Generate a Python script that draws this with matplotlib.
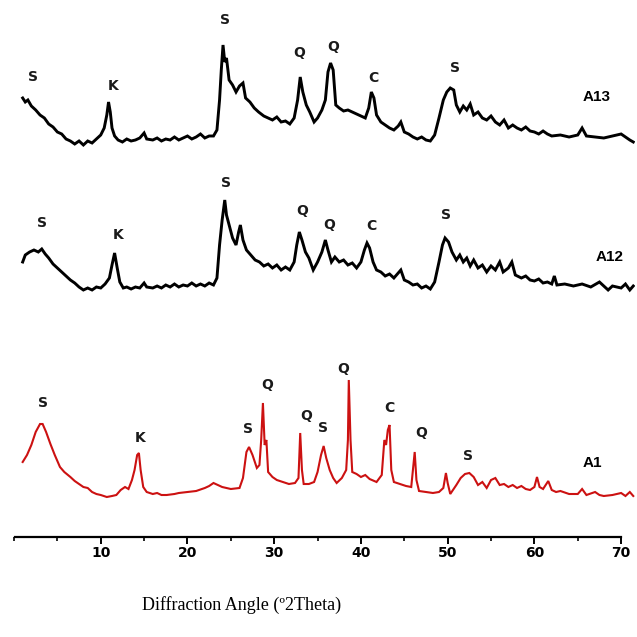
import matplotlib.pyplot as plt
from matplotlib.ticker import MultipleLocator

# Diffraction angle (2 theta) and intensity, one pair of lists per sample
a13_angle = [1.0, 1.3, 1.6, 2.0, 2.5, 3.0, 3.5, 4.0, 4.5, 5.0, 5.5, 6.0, 6.5, 7.0, 7.5, 8.0, 8.5, 9.0, 9.5,
             10.0, 10.4, 10.7, 10.9, 11.1, 11.3, 11.6, 12.0, 12.5, 13.0, 13.5, 14.0, 14.5, 15.0, 15.3, 16.0,
             16.5, 17.0, 17.5, 18.0, 18.5, 19.0, 19.5, 20.0, 20.5, 21.0, 21.5, 22.0, 22.5, 23.0, 23.4, 23.7,
             23.9, 24.1, 24.3, 24.5, 24.8, 25.2, 25.6, 26.0, 26.4, 26.7, 27.2, 27.7, 28.2, 28.8, 29.3, 29.8,
             30.3, 30.8, 31.3, 31.8, 32.3, 32.7, 33.0, 33.3, 33.7, 34.1, 34.6, 35.0, 35.5, 35.9, 36.2, 36.5,
             36.8, 37.1, 37.5, 38.0, 38.5, 39.0, 39.5, 40.0, 40.5, 40.9, 41.2, 41.5, 41.8, 42.3, 42.8, 43.3,
             43.8, 44.3, 44.6, 45.0, 45.5, 46.0, 46.5, 47.0, 47.5, 48.0, 48.5, 49.0, 49.5, 49.9, 50.3, 50.7,
             51.0, 51.4, 51.8, 52.2, 52.6, 53.0, 53.5, 54.0, 54.5, 55.0, 55.5, 56.0, 56.5, 57.0, 57.5, 58.0,
             58.5, 59.0, 59.5, 60.0, 60.5, 61.0, 61.5, 62.0, 63.0, 64.0, 65.0, 65.5, 66.0, 67.0, 68.0, 69.0,
             70.0, 70.5, 71.0, 71.4]
a13_int = [49, 45, 47, 41, 37, 32, 29, 23, 20, 15, 13, 8, 6, 3, 6, 2, 6, 4, 8,
           12, 19, 32, 45, 35, 19, 11, 7, 5, 8, 6, 7, 9, 14, 8, 7,
           9, 6, 8, 7, 10, 7, 9, 11, 8, 10, 13, 9, 11, 11, 17, 47,
           77, 102, 85, 89, 67, 62, 55, 61, 64, 49, 45, 39, 35, 31, 29, 27,
           30, 25, 26, 23, 29, 47, 70, 55, 42, 35, 25, 29, 37, 47, 75, 84,
           77, 42, 39, 36, 37, 35, 33, 31, 29, 39, 55, 49, 32, 25, 22, 19,
           17, 21, 25, 15, 13, 10, 8, 10, 7, 6, 12, 29, 47, 55, 59, 57,
           42, 35, 41, 37, 43, 32, 35, 29, 27, 31, 25, 22, 27, 19, 22, 19,
           17, 20, 16, 15, 13, 16, 13, 11, 12, 10, 12, 19, 11, 10, 9, 11,
           13, 10, 7, 5]

a12_angle = [1.0, 1.3, 1.8, 2.3, 2.8, 3.2, 3.6, 4.0, 4.5, 5.0, 5.5, 6.0, 6.5, 7.0, 7.5, 8.0, 8.5, 9.0, 9.5,
             10.0, 10.5, 11.0, 11.3, 11.6, 11.9, 12.2, 12.6, 13.0, 13.5, 14.0, 14.5, 15.0, 15.3, 16.0, 16.5,
             17.0, 17.5, 18.0, 18.5, 19.0, 19.5, 20.0, 20.5, 21.0, 21.5, 22.0, 22.5, 23.0, 23.4, 23.7, 24.0,
             24.3, 24.5, 24.8, 25.2, 25.6, 25.9, 26.1, 26.4, 26.8, 27.3, 27.8, 28.3, 28.8, 29.3, 29.8, 30.3,
             30.8, 31.3, 31.8, 32.3, 32.6, 32.9, 33.2, 33.6, 34.0, 34.5, 35.0, 35.5, 35.9, 36.2, 36.6, 37.0,
             37.5, 38.0, 38.5, 39.0, 39.5, 40.0, 40.4, 40.7, 41.0, 41.4, 41.8, 42.3, 42.8, 43.3, 43.8, 44.3,
             44.6, 45.0, 45.5, 46.0, 46.5, 47.0, 47.5, 48.0, 48.5, 49.0, 49.4, 49.7, 50.1, 50.5, 51.0, 51.4,
             51.8, 52.2, 52.6, 53.0, 53.5, 54.0, 54.5, 55.0, 55.5, 56.0, 56.4, 57.0, 57.4, 57.8, 58.5, 59.0,
             59.5, 60.0, 60.5, 61.0, 61.5, 62.0, 62.3, 62.6, 63.5, 64.5, 65.5, 66.5, 67.5, 68.0, 68.5, 69.0,
             70.0, 70.5, 71.0, 71.4]
a12_int = [35, 42, 45, 47, 45, 48, 43, 39, 33, 29, 25, 21, 17, 14, 10, 7, 9, 7, 10,
           9, 13, 19, 32, 44, 29, 15, 9, 10, 8, 10, 9, 14, 10, 9, 11,
           9, 12, 10, 13, 10, 12, 11, 14, 11, 13, 11, 14, 12, 19, 52, 77,
           97, 82, 72, 59, 52, 65, 72, 57, 47, 42, 37, 35, 31, 33, 29, 32,
           27, 30, 27, 35, 52, 65, 57, 45, 39, 27, 35, 45, 57, 47, 35, 40,
           35, 37, 32, 34, 29, 35, 47, 54, 49, 35, 27, 25, 21, 23, 19, 24,
           27, 17, 15, 12, 13, 9, 11, 8, 15, 35, 52, 59, 55, 45, 37, 42,
           35, 39, 31, 37, 29, 32, 25, 31, 27, 35, 25, 29, 35, 22, 19, 21,
           17, 16, 18, 14, 15, 13, 21, 12, 13, 11, 13, 10, 15, 11, 7, 11,
           9, 13, 7, 11]

a1_angle = [1.0, 1.5, 2.0, 2.5, 3.0, 3.3, 3.7, 4.2, 4.7, 5.3, 5.8, 6.5, 7.0, 7.5, 8.0, 8.5, 9.0, 9.5, 10.0,
            10.7, 11.3, 11.8, 12.3, 12.8, 13.2, 13.6, 13.9, 14.2, 14.4, 14.6, 14.9, 15.3, 16.0, 16.5, 17.0,
            17.6, 18.5, 19.0, 20.0, 21.0, 22.0, 22.5, 23.0, 23.5, 24.0, 25.0, 26.0, 26.4, 26.8, 27.1, 27.5,
            28.0, 28.3, 28.5, 28.7, 28.9, 29.1, 29.3, 29.8, 30.3, 31.0, 31.7, 32.4, 32.8, 33.0, 33.2, 33.4,
            34.0, 34.6, 35.0, 35.4, 35.7, 36.0, 36.4, 36.8, 37.2, 37.8, 38.3, 38.5, 38.6, 38.8, 39.0, 39.5,
            40.0, 40.5, 41.0, 41.8, 42.4, 42.7, 42.9, 43.1, 43.3, 43.5, 43.8, 44.5, 45.2, 45.8, 46.0, 46.2,
            46.4, 46.7, 47.5, 48.3, 49.0, 49.5, 49.8, 50.0, 50.3, 51.0, 51.5, 52.0, 52.5, 53.0, 53.5, 54.0,
            54.5, 55.0, 55.5, 56.0, 56.5, 57.0, 57.5, 58.0, 58.5, 59.0, 59.5, 60.0, 60.3, 60.6, 61.0, 61.6,
            62.0, 62.5, 63.0, 64.0, 65.0, 65.5, 66.0, 67.0, 67.5, 68.0, 69.0, 70.0, 70.5, 71.0, 71.4]
a1_int = [45, 52, 62, 75, 83, 83, 75, 63, 52, 40, 35, 30, 26, 23, 20, 19, 15, 13, 12,
          10, 11, 12, 17, 20, 18, 27, 37, 52, 54, 37, 20, 15, 13, 14, 12,
          12, 13, 14, 15, 16, 19, 21, 24, 22, 20, 18, 19, 29, 55, 60, 52,
          39, 42, 67, 104, 62, 67, 35, 30, 27, 25, 23, 24, 29, 74, 37, 23,
          23, 25, 35, 52, 61, 49, 37, 29, 24, 29, 37, 67, 127, 67, 35, 33,
          30, 32, 28, 25, 32, 67, 62, 77, 82, 37, 25, 23, 21, 20, 37, 55,
          27, 16, 15, 14, 15, 19, 34, 24, 13, 22, 29, 33, 34, 30, 22, 25,
          19, 27, 29, 22, 23, 20, 22, 19, 21, 18, 17, 20, 30, 20, 18, 26,
          17, 15, 16, 13, 13, 18, 12, 15, 12, 11, 12, 14, 11, 15, 11]

# Phase labels: letter, angle, height on the trace's own scale
a13_marks = [("S", 2.2, 70), ("K", 11.4, 61), ("S", 24.3, 127), ("Q", 32.9, 94),
             ("Q", 36.8, 100), ("C", 41.4, 69), ("S", 50.9, 79)]
a12_marks = [("S", 3.2, 74), ("K", 12.0, 62), ("S", 24.5, 114), ("Q", 33.2, 86),
             ("Q", 36.3, 72), ("C", 41.2, 71), ("S", 49.8, 82)]
a1_marks = [("S", 3.3, 104), ("K", 14.5, 69), ("S", 27.0, 78), ("Q", 29.2, 122),
            ("Q", 33.7, 91), ("S", 35.6, 79), ("Q", 37.9, 138), ("C", 43.3, 99),
            ("Q", 46.9, 74), ("S", 52.4, 51)]

samples = [
    ("A13", a13_angle, a13_int, a13_marks, 390, "black", 2.1, (67.2, 50)),
    ("A12", a12_angle, a12_int, a12_marks, 240, "black", 2.1, (68.7, 40)),
    ("A1", a1_angle, a1_int, a1_marks, 30, "#cc1111", 1.5, (66.7, 44)),
]

fig = plt.figure(figsize=(6.37, 6.37), dpi=100)
ax = fig.add_axes([14 / 637, 100 / 637, 621 / 637, 537 / 637])

for name, xs, ys, marks, offset, color, lw, name_pos in samples:
    ax.plot(xs, [y + offset for y in ys], color=color, lw=lw, solid_joinstyle="miter")
    for letter, xm, ym in marks:
        ax.text(xm, ym + offset, letter, ha="center", va="center",
                fontsize=10, fontweight="bold", color="#1a1a1a")
    ax.text(name_pos[0], name_pos[1] + offset, name, ha="center", va="center",
            fontsize=11, fontweight="bold", family="Liberation Sans")

ax.set_xlim(0, 71.6)
ax.set_ylim(0, 537)
for side in ["left", "right", "top"]:
    ax.spines[side].set_visible(False)
ax.spines["bottom"].set_bounds(0.1, 70)
ax.spines["bottom"].set_linewidth(1.6)
ax.set_yticks([])
ax.xaxis.set_major_locator(MultipleLocator(10))
ax.xaxis.set_minor_locator(MultipleLocator(5))
ax.set_xticks([10, 20, 30, 40, 50, 60, 70])
ax.tick_params(axis="x", which="major", length=5, width=1.4, pad=1.5)
ax.tick_params(axis="x", which="minor", length=3, width=1.2)
for lab in ax.get_xticklabels():
    lab.set_family(["Liberation Sans Narrow", "DejaVu Sans"])
    lab.set_fontweight("bold")
    lab.set_fontsize(10)

fig.text(242 / 637, 1 - 605 / 637, "Diffraction Angle (\u00ba2Theta)", ha="center", va="center",
         family="Liberation Serif", fontsize=13)

fig.savefig("out.png", dpi=100)
